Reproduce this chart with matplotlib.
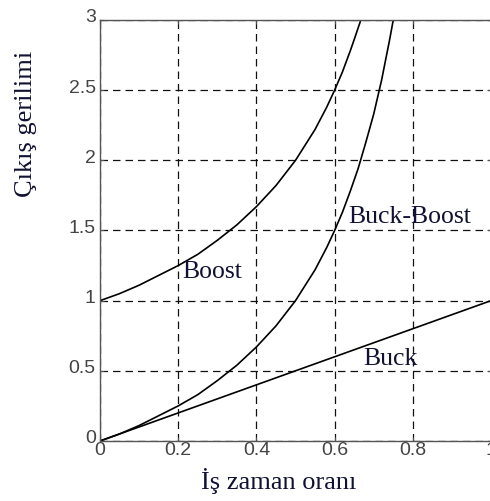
"""Output voltage vs duty ratio for buck, boost and buck-boost converters."""

import matplotlib

matplotlib.use("Agg")
import matplotlib.pyplot as plt
from matplotlib.transforms import ScaledTranslation

# values
BOOST_D = [0.0, 0.05, 0.1, 0.15, 0.2, 0.25, 0.3, 0.35, 0.4, 0.45, 0.5, 0.55, 0.58,
           0.6, 0.62, 0.64, 0.65, 0.667]
BOOST_V = [1.0, 1.05, 1.11, 1.18, 1.25, 1.33, 1.43, 1.54, 1.67, 1.82, 2.0, 2.22, 2.38,
           2.5, 2.63, 2.78, 2.86, 3.0]

BB_D = [0.0, 0.05, 0.1, 0.15, 0.2, 0.25, 0.3, 0.35, 0.4, 0.45, 0.5, 0.55, 0.58, 0.6,
        0.62, 0.64, 0.66, 0.68, 0.7, 0.72, 0.74, 0.75]
BB_V = [0.0, 0.05, 0.11, 0.18, 0.25, 0.33, 0.43, 0.54, 0.67, 0.82, 1.0, 1.22, 1.38, 1.5,
        1.63, 1.78, 1.94, 2.13, 2.33, 2.57, 2.85, 3.0]

BUCK_D = [0.0, 0.25, 0.5, 0.75, 1.0]
BUCK_V = [0.0, 0.25, 0.5, 0.75, 1.0]

XTICKS = [0, 0.2, 0.4, 0.6, 0.8, 1]
XTICKLABELS = ["0", "0.2", "0.4", "0.6", "0.8", "1"]
YTICKS = [0, 0.5, 1, 1.5, 2, 2.5, 3]
YTICKLABELS = ["0", "0.5", "1", "1.5", "2", "2.5", "3"]

# (text, x, y) for the curve names, baseline anchored
CURVE_LABELS = [("Boost", 0.21, 1.16), ("Buck-Boost", 0.634, 1.553), ("Buck", 0.673, 0.542)]

SERIF = "Liberation Serif"
TXT = "#111133"

fig = plt.figure(figsize=(4.9, 5.01), dpi=100)
ax = fig.add_axes([0.2041, 0.1198, 0.798, 0.8403])

for d, v in [(BOOST_D, BOOST_V), (BB_D, BB_V), (BUCK_D, BUCK_V)]:
    ax.plot(d, v, color="black", lw=1.2, clip_on=True)

ax.set_xlim(0, 1)
ax.set_ylim(0, 3)
ax.set_xticks(XTICKS)
ax.set_xticklabels(XTICKLABELS)
ax.set_yticks(YTICKS)
ax.set_yticklabels(YTICKLABELS)
ax.grid(True, color="#111111", lw=0.9, linestyle=(0, (6, 4)))

ax.tick_params(direction="in", length=3, width=0.8, color="#555555",
               labelsize=14, labelcolor="#444444", top=True, right=True)
ax.tick_params(axis="x", pad=1)
ax.tick_params(axis="y", pad=3)
for lab in ax.get_xticklabels() + ax.get_yticklabels():
    lab.set_family("Liberation Sans")
# y tick labels sit a little above their grid lines in the original
up = ScaledTranslation(0, 4 / 100, fig.dpi_scale_trans)
for lab in ax.get_yticklabels():
    lab.set_transform(lab.get_transform() + up)

for s in ax.spines.values():
    s.set_color("#555555")
    s.set_linewidth(1.0)

for txt, x, y in CURVE_LABELS:
    ax.text(x, y, txt, family=SERIF, fontsize=18.5, color=TXT, ha="left", va="baseline")

ax.set_xlabel("İş zaman oranı", family=SERIF, fontsize=19, color=TXT, va="center")
ax.xaxis.set_label_coords(0.458, -0.095)
ax.set_ylabel("Çıkış gerilimi", family=SERIF, fontsize=19, color=TXT, va="center")
ax.yaxis.set_label_coords(-0.189, 0.754)

fig.savefig("out.png", dpi=100)
